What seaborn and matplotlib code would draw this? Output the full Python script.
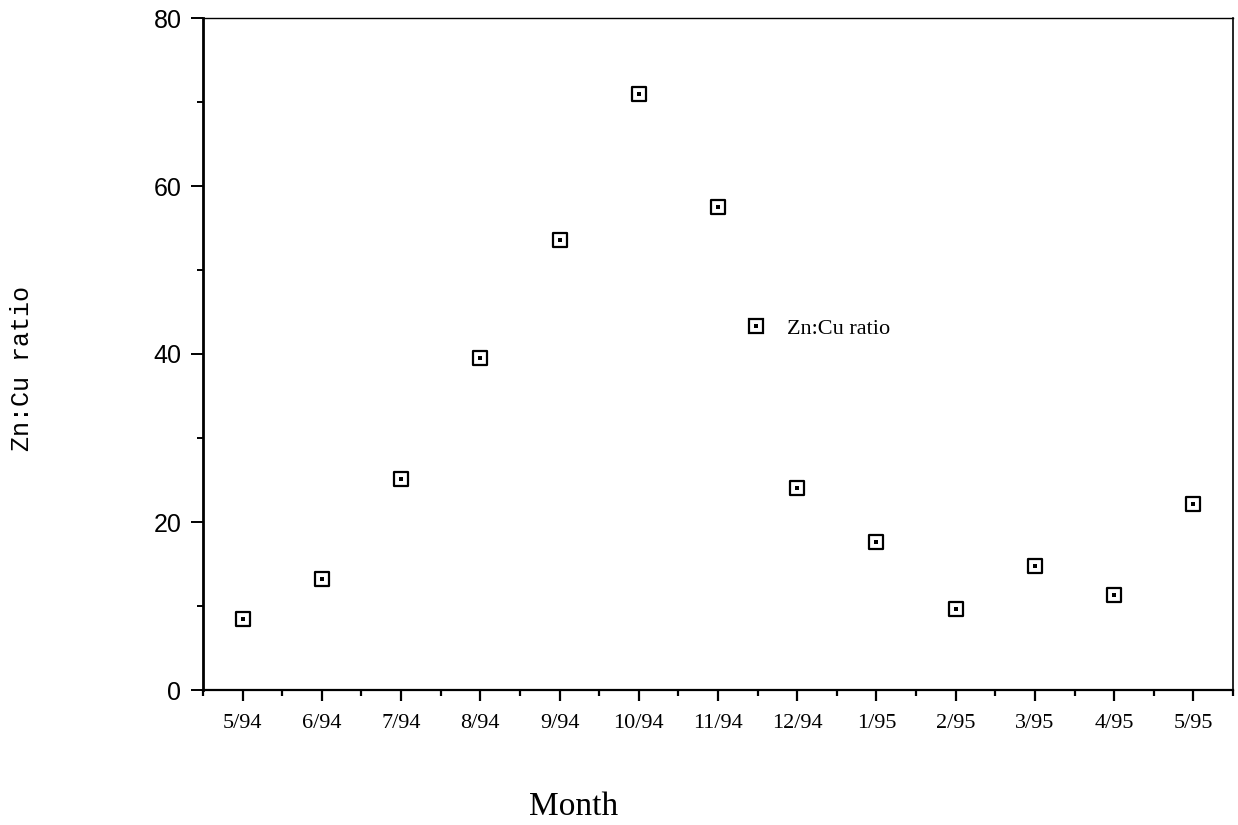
import matplotlib
matplotlib.use("Agg")
import matplotlib.pyplot as plt
import seaborn as sns
import pandas as pd
from matplotlib.lines import Line2D
from matplotlib.legend_handler import HandlerTuple
from matplotlib.ticker import MultipleLocator

months = ["5/94", "6/94", "7/94", "8/94", "9/94", "10/94", "11/94",
          "12/94", "1/95", "2/95", "3/95", "4/95", "5/95"]
ratios = [8.4, 13.2, 25.1, 39.5, 53.6, 70.9, 57.5, 24.0, 17.6, 9.6, 14.8, 11.3, 22.2]
y_ticks = [0, 20, 40, 60, 80]
series_label = "Zn:Cu ratio"
x_title = "Month"
y_title = "Zn:Cu ratio"

df = pd.DataFrame({"month": pd.Categorical(months, categories=months, ordered=True),
                   "ratio": ratios})

sns.set_style("ticks")
plt.rcParams["font.family"] = ["Liberation Sans", "DejaVu Sans"]
plt.rcParams["text.color"] = "black"
plt.rcParams["axes.labelcolor"] = "black"
plt.rcParams["xtick.color"] = "black"
plt.rcParams["ytick.color"] = "black"
plt.rcParams["xtick.labelcolor"] = "black"
plt.rcParams["ytick.labelcolor"] = "black"

W, H = 1238, 825
fig = plt.figure(figsize=(W / 100, H / 100), dpi=100)
ax = fig.add_axes([203 / W, 1 - 690 / H, 1030 / W, 672 / H])

sns.stripplot(data=df, x="month", y="ratio", jitter=False, marker="s", size=9.5,
              color="white", edgecolor="black", linewidth=1.6, ax=ax, zorder=3)
sns.stripplot(data=df, x="month", y="ratio", jitter=False, marker="s", size=2.2,
              color="black", linewidth=0, ax=ax, zorder=4)

ax.set_xlim(-0.5, len(months) - 0.5)
ax.set_ylim(0, 80)
ax.set_yticks(y_ticks)
ax.yaxis.set_minor_locator(MultipleLocator(10))
ax.set_xticks(range(len(months)))
ax.set_xticklabels(months, fontfamily="Liberation Serif", fontsize=16, color="black")
ax.set_xticks([i - 0.5 for i in range(len(months) + 1)], minor=True)

for lab in ax.get_yticklabels():
    lab.set_fontfamily("Liberation Sans")
    lab.set_fontsize(18)
    lab.set_color("black")

ax.tick_params(axis="x", which="major", length=8, width=1.6, direction="out", pad=9, color="black")
ax.tick_params(axis="x", which="minor", length=4, width=1.6, direction="out", color="black")
ax.tick_params(axis="y", which="major", length=8.5, width=1.4, direction="out", pad=7, color="black")
ax.tick_params(axis="y", which="minor", length=4, width=1.4, direction="out", color="black")

for side in ["top", "right"]:
    ax.spines[side].set_visible(True)
ax.spines["left"].set_linewidth(2.0)
ax.spines["bottom"].set_linewidth(1.6)
ax.spines["top"].set_linewidth(1.0)
ax.spines["right"].set_linewidth(1.2)
for s in ax.spines.values():
    s.set_color("black")

ax.set_xlabel(x_title, fontfamily="Liberation Serif", fontsize=24, color="black")
ax.xaxis.set_label_coords((574 - 203) / 1030, (690 - 792) / 672)
ax.set_ylabel(y_title, fontfamily="Liberation Mono", fontsize=18, color="black")
ax.yaxis.set_label_coords((34 - 203) / 1030, (690 - 369) / 672)

h_box = Line2D([], [], marker="s", linestyle="none", markersize=9.5,
               markerfacecolor="white", markeredgecolor="black", markeredgewidth=1.6)
h_dot = Line2D([], [], marker="s", linestyle="none", markersize=2.2,
               markerfacecolor="black", markeredgewidth=0)
leg = ax.legend([(h_box, h_dot)], [series_label],
                handler_map={tuple: HandlerTuple(ndivide=1)},
                loc="center left", bbox_to_anchor=((745 - 203) / 1030, (690 - 329) / 672),
                frameon=False, handlelength=1.0, handletextpad=0.9,
                borderpad=0, borderaxespad=0, labelcolor="black",
                prop={"family": "Liberation Serif", "size": 16})

fig.savefig("out.png", dpi=100, facecolor="white")
